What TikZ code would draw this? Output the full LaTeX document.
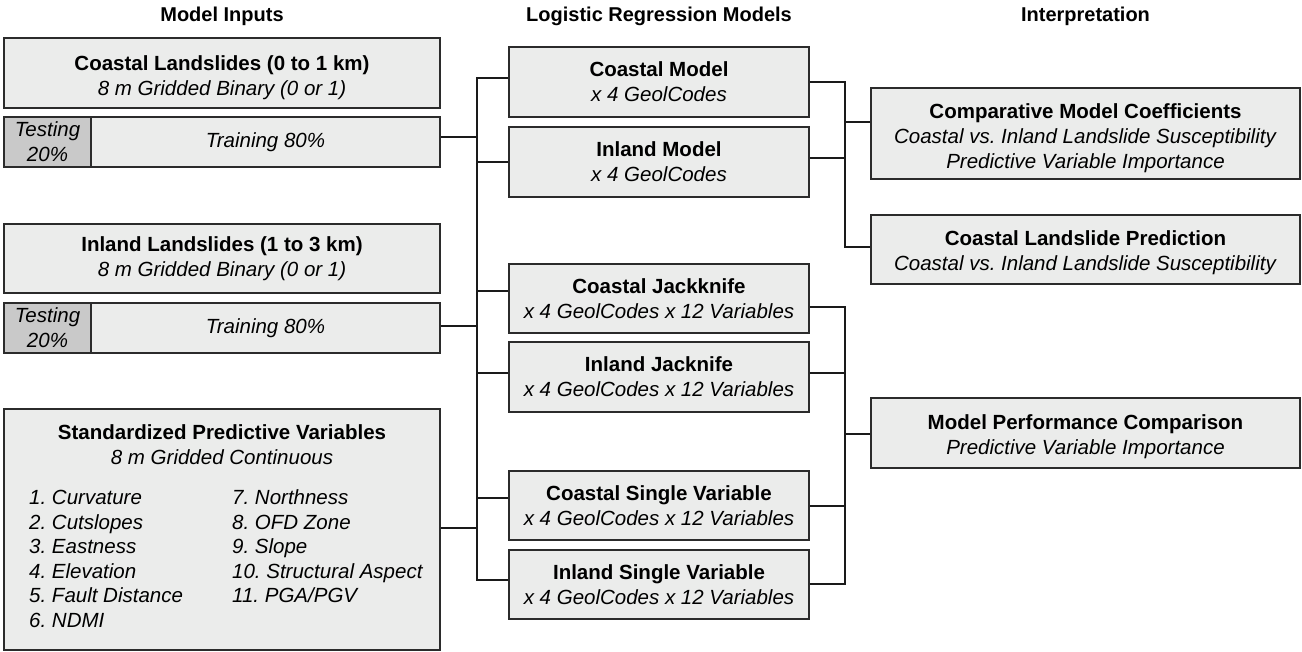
\documentclass[tikz,border=0pt]{standalone}
\usepackage{fontspec}
\setmainfont{Liberation Sans}
\usetikzlibrary{calc}
\frenchspacing
\definecolor{boxfill}{HTML}{EBECEB}
\definecolor{testfill}{HTML}{C9C9C9}
\definecolor{boxline}{HTML}{2B2B2B}
\definecolor{connline}{HTML}{1A1A1A}
\tikzset{
  box/.style={draw=boxline, fill=boxfill, line width=1.5pt, inner sep=0pt, align=center,
    font=\fontsize{20.5}{25}\selectfont},
  txt/.style={inner sep=0pt, align=center, font=\fontsize{20.5}{25}\selectfont},
  testbox/.style={box, fill=testfill},
  hdr/.style={font=\fontsize{20}{24}\selectfont\bfseries, inner sep=0pt},
  item/.style={font=\fontsize{20.5}{25}\selectfont\itshape, inner sep=0pt, anchor=base west},
  conn/.style={draw=connline, line width=1.5pt},
}
\begin{document}
\begin{tikzpicture}[x=1pt,y=-1pt]
\useasboundingbox (0,0) rectangle (1302,652);
% headers
\node[hdr] (h1) at (222,16) {Model Inputs};
\node[hdr] (h2) at (659,16) {Logistic Regression Models};
\node[hdr] (h3) at (1085.5,16) {Interpretation};
% inputs
\node[box, minimum width=436pt, minimum height=70pt] (cl) at (222,73) {};
\node[txt] (clt) at ([yshift=-5pt]cl.center)
  {\textbf{Coastal Landslides (0 to 1 km)}\\\textit{8 m Gridded Binary (0 or 1)}};
\node[testbox, minimum width=87pt, minimum height=50pt] (test1) at (47.5,142)
  {\textit{Testing}\\\textit{20\%}};
\node[box, minimum width=349pt, minimum height=50pt] (train1) at (265.5,142)
  {\textit{Training 80\%}};
\node[box, minimum width=436pt, minimum height=69pt] (il) at (222,258.5)
  {\textbf{Inland Landslides (1 to 3 km)}\\\textit{8 m Gridded Binary (0 or 1)}};
\node[testbox, minimum width=87pt, minimum height=50pt] (test2) at (47.5,328)
  {\textit{Testing}\\\textit{20\%}};
\node[box, minimum width=349pt, minimum height=50pt] (train2) at (265.5,328)
  {\textit{Training 80\%}};
\node[box, minimum width=436pt, minimum height=241pt] (spv) at (222,529.5) {};
\node[txt] (spvt) at (222,444.5)
  {\textbf{Standardized Predictive Variables}\\\textit{8 m Gridded Continuous}};
\foreach \t [count=\i] in {1. Curvature,2. Cutslopes,3. Eastness,4. Elevation,5. Fault Distance,6. NDMI}
  \node[item] (a\i) at (29,{504.5+(\i-1)*24.6}) {\t};
\foreach \t [count=\i] in {7. Northness,8. OFD Zone,9. Slope,10. Structural Aspect,11. PGA/PGV}
  \node[item] (b\i) at (232,{504.5+(\i-1)*24.6}) {\t};
% models
\node[box, minimum width=300pt, minimum height=70pt] (cm) at (659,82)
  {\textbf{Coastal Model}\\\textit{x 4 GeolCodes}};
\node[box, minimum width=300pt, minimum height=70pt] (im) at (659,162)
  {\textbf{Inland Model}\\\textit{x 4 GeolCodes}};
\node[box, minimum width=300pt, minimum height=69pt] (cj) at (659,298.5)
  {\textbf{Coastal Jackknife}\\\textit{x 4 GeolCodes x 12 Variables}};
\node[box, minimum width=300pt, minimum height=70pt] (ij) at (659,377)
  {\textbf{Inland Jacknife}\\\textit{x 4 GeolCodes x 12 Variables}};
\node[box, minimum width=300pt, minimum height=69pt] (cs) at (659,505.5)
  {\textbf{Coastal Single Variable}\\\textit{x 4 GeolCodes x 12 Variables}};
\node[box, minimum width=300pt, minimum height=69pt] (is) at (659,584.5)
  {\textbf{Inland Single Variable}\\\textit{x 4 GeolCodes x 12 Variables}};
% interpretation
\node[box, minimum width=429pt, minimum height=91pt] (cmc) at (1085.5,133.5) {};
\node[txt] (cmct) at ([yshift=-5pt]cmc.center)
  {\textbf{Comparative Model Coefficients}\\\textit{Coastal vs. Inland Landslide Susceptibility}\\\textit{Predictive Variable Importance}};
\node[box, minimum width=429pt, minimum height=69pt] (clp) at (1085.5,249.5) {};
\node[txt] (clpt) at ([yshift=-3.5pt]clp.center)
  {\textbf{Coastal Landslide Prediction}\\\textit{Coastal vs. Inland Landslide Susceptibility}};
\node[box, minimum width=429pt, minimum height=70pt] (mpc) at (1085.5,433) {};
\node[txt] (mpct) at ([yshift=-4pt]mpc.center)
  {\textbf{Model Performance Comparison}\\\textit{Predictive Variable Importance}};
% trunk
\coordinate (trunk) at (477,330);
\draw[conn] ([yshift=4pt]cm.west) -| (trunk) |- ([yshift=4.5pt]is.west);
\draw[conn] (im.west) -- ++(-32,0);
\draw[conn] ([yshift=7.5pt]cj.west) -- ++(-32,0);
\draw[conn] ([yshift=4pt]ij.west) -- ++(-32,0);
\draw[conn] ([yshift=7.5pt]cs.west) -- ++(-32,0);
\draw[conn] ([yshift=5pt]train1.east) -- ++(37,0);
\draw[conn] ([yshift=2pt]train2.east) -- ++(37,0);
\draw[conn] ([yshift=1.5pt]spv.east) -- ++(37,0);
% right top
\coordinate (rt) at (845,160);
\draw[conn] (cm.east) -| (rt) |- ([yshift=2.5pt]clp.west);
\draw[conn] ([yshift=4pt]im.east) -- ++(36,0);
\draw[conn] ([yshift=11.5pt]cmc.west) -- ++(-26,0);
% right bottom
\coordinate (rb) at (845,440);
\draw[conn] ([yshift=-8.5pt]cj.east) -| (rb) |- ([yshift=0.5pt]is.east);
\draw[conn] ([yshift=4pt]ij.east) -- ++(36,0);
\draw[conn] ([yshift=-0.5pt]cs.east) -- ++(36,0);
\draw[conn] ([yshift=-1pt]mpc.west) -- ++(-26,0);
\end{tikzpicture}
\end{document}
